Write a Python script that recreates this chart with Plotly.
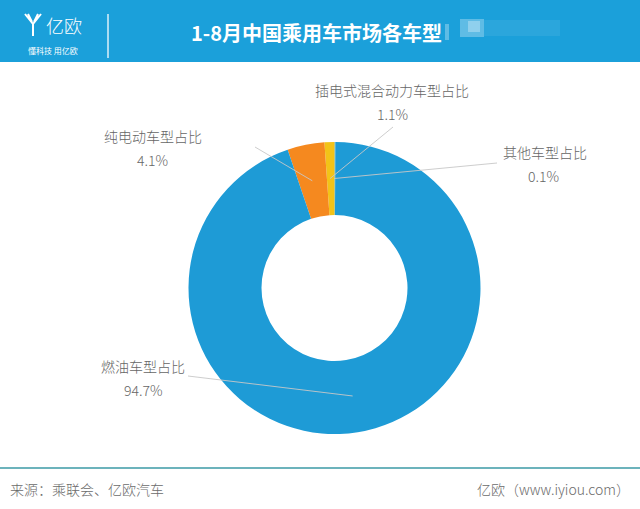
import math
import plotly.graph_objects as go

W, H = 640, 509

# ---- data ----
categories = ["其他车型占比", "插电式混合动力车型占比", "纯电动车型占比", "燃油车型占比"]
values = [0.1, 1.1, 4.1, 94.7]
colors = ["#2a9fd8", "#f2c318", "#f5891f", "#1e9bd6"]

title_text = "1-8月中国乘用车市场各车型"
source_text = "来源：乘联会、亿欧汽车"
brand_text = "亿欧（www.iyiou.com）"

# ---- layout constants (pixels) ----
CX, CY, R_OUT, HOLE = 334.5, 288.0, 146.0, 0.5
# label anchor positions (name centre, value centre, line end)
label_pos = {
    "其他车型占比": ((545, 152), (543, 176), (497, 163)),
    "插电式混合动力车型占比": ((392, 90), (392, 114), (393, 127)),
    "纯电动车型占比": ((153, 136), (152, 160), (255, 147)),
    "燃油车型占比": ((143, 366), (143, 390), (188, 376)),
}


def px(x):
    return x / W


def py(y):
    return 1 - y / H


fig = go.Figure()
fig.add_trace(go.Pie(
    labels=categories, values=values, sort=False, direction="counterclockwise",
    rotation=0, hole=HOLE, textinfo="none", hoverinfo="label+percent",
    marker=dict(colors=colors, line=dict(width=0)),
    domain=dict(x=[px(CX - R_OUT), px(CX + R_OUT)],
                y=[1 - (CY + R_OUT) / H, 1 - (CY - R_OUT) / H]),
    showlegend=False,
))

shapes = []
annotations = []

# leader lines computed from the data
total = sum(values)
cum = 0.0
r_mid = R_OUT * (1 + HOLE) / 2
gray_font = dict(family="Noto Sans CJK SC, sans-serif", size=14, color="#666666", weight=300)
for cat, v in zip(categories, values):
    mid = (cum + v / 2) / total * 2 * math.pi
    cum += v
    sx = CX - r_mid * math.sin(mid)
    sy = CY - r_mid * math.cos(mid)
    (nx, ny), (vx, vy), (ex, ey) = label_pos[cat]
    shapes.append(dict(type="line", xref="paper", yref="paper",
                       x0=px(sx), y0=py(sy), x1=px(ex), y1=py(ey),
                       line=dict(color="rgba(200,200,200,0.9)", width=1)))
    annotations.append(dict(x=px(nx), y=py(ny), xref="paper", yref="paper",
                            text=cat, showarrow=False, font=gray_font,
                            xanchor="center", yanchor="middle"))
    annotations.append(dict(x=px(vx), y=py(vy), xref="paper", yref="paper",
                            text=f"{v}%", showarrow=False, font=gray_font,
                            xanchor="center", yanchor="middle"))

# header band
shapes.append(dict(type="rect", xref="paper", yref="paper", x0=0, x1=1,
                   y0=py(62), y1=1, fillcolor="#1ba0da", line=dict(width=0), layer="below"))
# divider in header
shapes.append(dict(type="line", xref="paper", yref="paper", x0=px(108), x1=px(108),
                   y0=py(14), y1=py(58), line=dict(color="rgba(255,255,255,0.85)", width=1.5)))
# stylised logo mark
logo_path = ("M {a},{b} L {c},{d} L {c},{e} M {f},{b} L {c},{d} "
             "M {g},{b} L {c2},{d2} M {h},{b} L {c3},{d2}").format(
    a=px(25), b=py(14), c=px(33), d=py(24), e=py(36), f=px(41),
    g=px(28), h=px(38), c2=px(32), d2=py(22), c3=px(34))
shapes.append(dict(type="path", xref="paper", yref="paper", path=logo_path,
                   line=dict(color="white", width=2)))
annotations.append(dict(x=px(44), y=py(25), xref="paper", yref="paper", text="亿欧",
                        showarrow=False, xanchor="left", yanchor="middle",
                        font=dict(family="Noto Sans CJK SC", size=18, color="white", weight=300)))
annotations.append(dict(x=px(26), y=py(50), xref="paper", yref="paper", text="懂科技 用亿欧",
                        showarrow=False, xanchor="left", yanchor="middle",
                        font=dict(family="Noto Sans CJK SC", size=8, color="white")))
annotations.append(dict(x=px(189), y=py(32), xref="paper", yref="paper",
                        text="<b>" + title_text + "</b>", showarrow=False,
                        xanchor="left", yanchor="middle",
                        font=dict(family="Noto Sans CJK SC", size=20, color="white")))
# blurred region after the title
shapes.append(dict(type="rect", xref="paper", yref="paper", x0=px(445), x1=px(449),
                   y0=py(40), y1=py(24), fillcolor="rgba(255,255,255,0.3)", line=dict(width=0)))
shapes.append(dict(type="rect", xref="paper", yref="paper", x0=px(460), x1=px(484),
                   y0=py(37), y1=py(19), fillcolor="rgba(255,255,255,0.3)", line=dict(width=0)))
shapes.append(dict(type="rect", xref="paper", yref="paper", x0=px(468), x1=px(480),
                   y0=py(32), y1=py(21), fillcolor="rgba(255,255,255,0.3)", line=dict(width=0)))
shapes.append(dict(type="rect", xref="paper", yref="paper", x0=px(484), x1=px(560),
                   y0=py(36), y1=py(20), fillcolor="rgba(255,255,255,0.07)", line=dict(width=0)))

# footer
shapes.append(dict(type="line", xref="paper", yref="paper", x0=0, x1=1,
                   y0=py(468), y1=py(468), line=dict(color="#3b9aa6", width=1.5)))
foot_font = dict(family="Noto Sans CJK SC", size=14, color="#6b6b6b", weight=300)
annotations.append(dict(x=px(8), y=py(489), xref="paper", yref="paper", text=source_text,
                        showarrow=False, xanchor="left", yanchor="middle", font=foot_font))
annotations.append(dict(x=px(632), y=py(489), xref="paper", yref="paper", text=brand_text,
                        showarrow=False, xanchor="right", yanchor="middle", font=foot_font))

fig.update_layout(
    width=W, height=H, margin=dict(l=0, r=0, t=0, b=0),
    paper_bgcolor="white", plot_bgcolor="white",
    shapes=shapes, annotations=annotations,
)
fig.write_html("out.html", config={"displayModeBar": False},
               post_script="document.body.style.margin='0';document.body.style.overflow='hidden';")
